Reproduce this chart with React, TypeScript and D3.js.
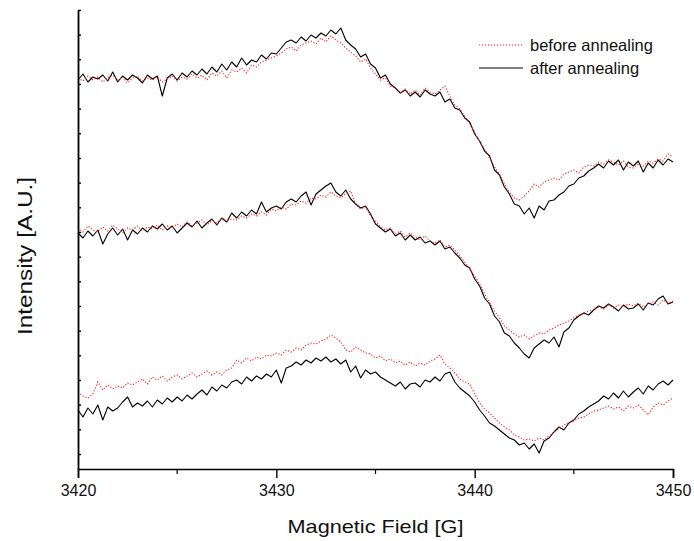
import React, { useEffect, useRef } from "react";
import * as d3 from "d3";

// sweep: 3420 G to 3450 G, one reading every 0.25 G
const fieldStart = 3420;
const fieldStep = 0.25;
const xMajorTicks = [3420, 3430, 3440, 3450];
const xMinorTicks = [3425, 3435, 3445];
const legendLabels = ["before annealing", "after annealing"];

// intensity, arbitrary units (traces are stacked with an offset)
const topBefore = [
  376, 373, 378, 374, 377, 372, 376, 379, 374, 377, 371, 376, 378, 373, 376, 374,
  377, 372, 375, 378, 373, 377, 375, 380, 376, 379, 374, 381, 378, 383, 376, 384,
  382, 386, 381, 389, 387, 392, 394, 396, 398, 401, 405, 407, 403, 409, 411, 413,
  410, 416, 412, 418, 414, 411, 406, 402, 398, 392, 395, 386, 380, 374, 376, 368,
  366, 361, 365, 360, 364, 359, 366, 362, 360, 364, 368, 358, 349, 345, 338, 330,
  322, 312, 305, 296, 287, 280, 270, 262, 256, 254, 258, 263, 270, 267, 272, 274,
  276, 274, 280, 282, 284, 281, 287, 289, 288, 292, 290, 294, 292, 289, 293, 287,
  286, 290, 288, 293, 291, 295, 293, 300, 297,
];
const topAfter = [
  374, 380, 372, 377, 375, 379, 373, 382, 372, 378, 374, 379, 376, 371, 379, 375,
  378, 358, 376, 380, 374, 381, 377, 383, 379, 385, 380, 387, 382, 390, 384, 392,
  387, 396, 389, 394, 392, 399, 395, 401, 400, 406, 412, 414, 411, 417, 413, 419,
  416, 421, 418, 424, 420, 426, 414, 409, 405, 397, 400, 390, 386, 376, 379, 370,
  366, 361, 364, 358, 362, 357, 364, 360, 358, 362, 352, 355, 346, 344, 336, 332,
  320, 313, 303, 298, 284, 279, 267, 260, 250, 248, 240, 246, 236, 248, 244, 253,
  254, 259, 262, 268, 270, 276, 278, 283, 286, 290, 286, 293, 289, 294, 284, 292,
  288, 293, 282, 291, 286, 294, 289, 295, 292,
];
const midBefore = [
  226, 222, 228, 224, 222, 227, 223, 229, 225, 221, 226, 224, 228, 223, 227, 225,
  229, 224, 228, 226, 230, 227, 232, 228, 231, 234, 229, 233, 231, 236, 233, 235,
  234, 238, 236, 240, 238, 242, 239, 245, 243, 247, 245, 250, 249, 253, 251, 256,
  255, 259, 257, 262, 258, 256, 260, 263, 250, 245, 247, 238, 233, 227, 224, 226,
  220, 223, 217, 221, 217, 214, 218, 213, 211, 214, 207, 209, 204, 198, 192, 185,
  178, 170, 160, 152, 143, 136, 128, 124, 120, 117, 119, 115, 118, 121, 120, 124,
  126, 129, 131, 133, 136, 139, 141, 143, 144, 147, 145, 149, 146, 149, 147, 150,
  148, 151, 147, 150, 152, 149, 154, 151, 153,
];
const midAfter = [
  221, 216, 223, 218, 224, 210, 220, 226, 219, 225, 214, 224, 220, 226, 222, 228,
  225, 230, 224, 228, 221, 226, 231, 227, 233, 226, 231, 235, 229, 236, 232, 241,
  236, 242, 238, 244, 240, 252, 242, 246, 248, 245, 252, 255, 252, 258, 262, 249,
  260, 264, 268, 271, 262, 258, 264, 255, 250, 246, 248, 240, 230, 226, 222, 225,
  218, 221, 214, 219, 214, 217, 211, 213, 209, 213, 205, 207, 201, 196, 189, 186,
  175, 168, 156, 150, 138, 132, 121, 118, 111, 106, 100, 96, 106, 110, 114, 111,
  117, 107, 122, 126, 134, 138, 141, 139, 144, 148, 146, 150, 147, 143, 149, 145,
  146, 150, 144, 151, 149, 155, 158, 150, 152,
];
const lowBefore = [
  62, 58, 56, 60, 72, 64, 69, 65, 68, 66, 71, 69, 72, 75, 70, 77,
  74, 78, 73, 77, 79, 75, 78, 81, 77, 80, 83, 79, 82, 79, 84, 86,
  94, 91, 96, 93, 97, 95, 99, 98, 101, 99, 104, 102, 106, 104, 109, 111,
  110, 113, 115, 119, 116, 112, 104, 102, 107, 104, 101, 100, 96, 98, 93, 95,
  91, 93, 89, 92, 88, 91, 89, 93, 95, 99, 90, 86, 81, 75, 72, 70,
  60, 51, 45, 41, 36, 31, 27, 24, 19, 17, 14, 15, 13, 16, 14, 18,
  22, 26, 29, 31, 33, 36, 37, 40, 43, 44, 46, 48, 45, 47, 43, 48,
  46, 49, 44, 39, 47, 51, 49, 53, 56,
];
const lowAfter = [
  44, 37, 46, 40, 49, 34, 47, 43, 46, 52, 57, 47, 51, 48, 53, 47,
  54, 50, 56, 52, 57, 53, 59, 55, 60, 64, 59, 67, 63, 69, 66, 72,
  74, 70, 77, 73, 78, 75, 80, 77, 84, 71, 86, 88, 92, 89, 94, 91,
  96, 93, 97, 92, 95, 90, 94, 82, 88, 76, 84, 80, 82, 77, 74, 71,
  68, 72, 65, 70, 71, 67, 74, 72, 77, 73, 80, 82, 72, 66, 62, 58,
  52, 44, 38, 31, 28, 24, 20, 16, 14, 9, 11, 5, 10, 1, 13, 16,
  22, 27, 24, 31, 34, 40, 43, 47, 50, 53, 58, 55, 61, 56, 63, 57,
  62, 66, 60, 68, 64, 70, 73, 69, 74,
];

const beforeSeries = [topBefore, midBefore, lowBefore];
const afterSeries = [topAfter, midAfter, lowAfter];

const width = 694;
const height = 541;
const margin = { top: 10, right: 21, bottom: 72, left: 78 };
const font = "'Liberation Sans', Arial, sans-serif";

export default function App() {
  const ref = useRef<SVGSVGElement>(null);

  useEffect(() => {
    const svg = d3.select(ref.current);
    svg.selectAll("*").remove();

    const x = d3
      .scaleLinear()
      .domain([3420, 3450])
      .range([margin.left, width - margin.right]);
    const y = d3
      .scaleLinear()
      .domain([-15, 444])
      .range([height - margin.bottom, margin.top]);

    const line = d3
      .line<number>()
      .x((d, i) => x(fieldStart + i * fieldStep))
      .y((d) => y(d));

    // traces
    afterSeries.forEach((s) => {
      svg
        .append("path")
        .datum(s)
        .attr("fill", "none")
        .attr("stroke", "#000")
        .attr("stroke-width", 1.1)
        .attr("stroke-linejoin", "round")
        .attr("d", line);
    });
    beforeSeries.forEach((s) => {
      svg
        .append("path")
        .datum(s)
        .attr("fill", "none")
        .attr("stroke", "#ff1a1a")
        .attr("stroke-width", 1.1)
        .attr("stroke-dasharray", "1.2 1.8")
        .attr("d", line);
    });

    // x axis
    const xAxis = svg
      .append("g")
      .attr("transform", `translate(0,${height - margin.bottom})`);
    xAxis
      .call(
        d3
          .axisBottom(x)
          .tickValues(xMajorTicks)
          .tickSize(9)
          .tickPadding(7)
          .tickFormat(d3.format("d"))
      )
      .call((g) => g.select(".domain").attr("stroke-width", 1.6))
      .call((g) => g.selectAll(".tick line").attr("stroke-width", 1.4))
      .call((g) =>
        g
          .selectAll(".tick text")
          .attr("font-family", font)
          .attr("font-size", 16)
          .attr("fill", "#111")
      );
    xAxis
      .selectAll(".minor")
      .data(xMinorTicks)
      .enter()
      .append("line")
      .attr("x1", (d) => x(d))
      .attr("x2", (d) => x(d))
      .attr("y1", 0)
      .attr("y2", 5)
      .attr("stroke", "#000")
      .attr("stroke-width", 1.2);

    // y axis, inward ticks, no labels
    svg
      .append("g")
      .attr("transform", `translate(${margin.left},0)`)
      .call(
        d3
          .axisLeft(y)
          .tickValues(d3.range(19).map((i) => i * 24.67))
          .tickSize(-3)
          .tickSizeOuter(0)
          .tickFormat(() => "")
      )
      .call((g) => g.select(".domain").attr("stroke-width", 1.8))
      .call((g) => g.selectAll(".tick line").attr("stroke-width", 1.4));

    // axis titles
    svg
      .append("text")
      .attr("x", (margin.left + width - margin.right) / 2)
      .attr("y", 533)
      .attr("text-anchor", "middle")
      .attr("font-family", font)
      .attr("font-size", 19)
      .attr("textLength", 176)
      .attr("lengthAdjust", "spacingAndGlyphs")
      .attr("fill", "#111")
      .text("Magnetic Field [G]");

    svg
      .append("text")
      .attr("transform", `translate(32,256) rotate(-90)`)
      .attr("text-anchor", "middle")
      .attr("font-family", font)
      .attr("font-size", 20)
      .attr("textLength", 158)
      .attr("lengthAdjust", "spacingAndGlyphs")
      .attr("fill", "#111")
      .text("Intensity [A.U.]");

    // legend
    const legend = svg.append("g").attr("transform", "translate(479,45)");
    legendLabels.forEach((label, i) => {
      const row = legend.append("g").attr("transform", `translate(0,${i * 23})`);
      row
        .append("line")
        .attr("x1", 0)
        .attr("x2", 44)
        .attr("stroke", i === 0 ? "#ff1a1a" : "#000")
        .attr("stroke-width", 1.1)
        .attr("stroke-dasharray", i === 0 ? "1.2 1.8" : null);
      row
        .append("text")
        .attr("x", 51)
        .attr("y", 5.5)
        .attr("font-family", font)
        .attr("font-size", 16.5)
        .attr("fill", "#111")
        .text(label);
    });
  }, []);

  return (
    <svg
      ref={ref}
      width={width}
      height={height}
      style={{ position: "absolute", left: 0, top: 0, background: "#fff" }}
    ></svg>
  );
}
